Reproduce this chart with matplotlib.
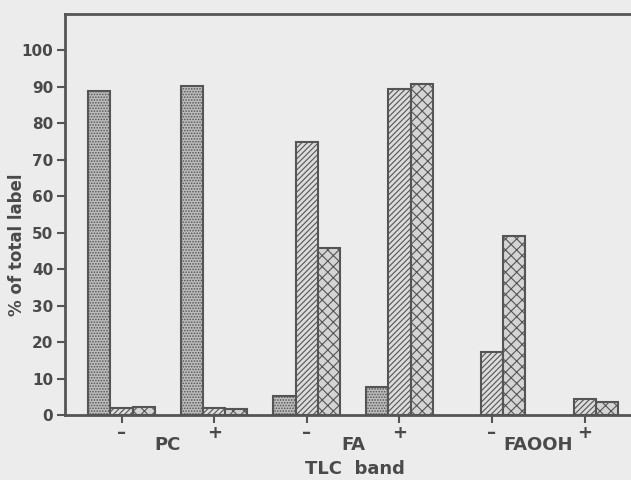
import matplotlib
matplotlib.use("Agg")
import matplotlib.pyplot as plt
import numpy as np

categories = ["PC", "FA", "FAOOH"]
treatments = ["\u2013", "+"]
series_stipple = [88.8, 90.3, 5.3, 7.8, 0.0, 0.0]
series_hatched = [1.9, 2.0, 75.0, 89.5, 17.4, 4.3]
series_wavy = [2.3, 1.7, 45.8, 90.7, 49.0, 3.5]
yticks = list(range(0, 101, 10))

plt.rcParams['font.family'] = ['DejaVu Sans']
plt.rcParams['hatch.linewidth'] = 0.8

bg = "#ececec"
edge = "#555555"
txt = "#4a4a4a"
fig = plt.figure(figsize=(6.31, 4.80), dpi=100, facecolor=bg)
ax = fig.add_axes([0.103, 0.1354, 0.897, 0.8356])
ax.set_facecolor(bg)

x = np.arange(len(categories) * len(treatments))
w = 0.24
styles = [
    (series_stipple, "#bdbdbd", "......"),
    (series_hatched, "#dcdcdc", "//////"),
    (series_wavy, "#d4d4d4", "xxx"),
]
for k, (vals, fc, h) in enumerate(styles):
    vals = np.array(vals)
    mask = vals > 0
    ax.bar(x[mask] + (k - 1) * w, vals[mask], width=w, facecolor=fc,
           edgecolor=edge, hatch=h, linewidth=1.5)

ax.set_xlim(-0.61, 5.50)
ax.set_ylim(0, 110)
ax.set_yticks(yticks)
ax.set_yticklabels([str(t) for t in yticks], fontsize=11, color=txt,
                   fontweight="bold")
ax.set_xticks(x)
ax.set_xticklabels(treatments * len(categories), fontsize=13, color=txt,
                   fontweight="bold")
ax.tick_params(axis="both", direction="out", length=5.5, width=1.5, color=edge)
ax.tick_params(axis="x", pad=1)
ax.tick_params(axis="y", pad=3)

for s in ["left", "top", "bottom"]:
    ax.spines[s].set_linewidth(2)
    ax.spines[s].set_color(edge)
ax.spines["right"].set_visible(False)

for i, c in enumerate(categories):
    ax.annotate(c, xy=(2 * i + 0.5, 0), xycoords=("data", "axes fraction"),
                xytext=(0, -21.6), textcoords="offset points",
                ha="center", va="center", fontsize=13, color=txt,
                fontweight="bold")

ax.set_xlabel("TLC  band", fontsize=13, color=txt, fontweight="bold",
              va="center")
ax.xaxis.set_label_coords(0.512, -0.135)
ax.set_ylabel("% of total label", fontsize=12, color=txt,
              fontweight="bold", va="center")
ax.yaxis.set_label_coords(-0.085, 0.424)

fig.savefig("out.png", dpi=100, facecolor=bg)
